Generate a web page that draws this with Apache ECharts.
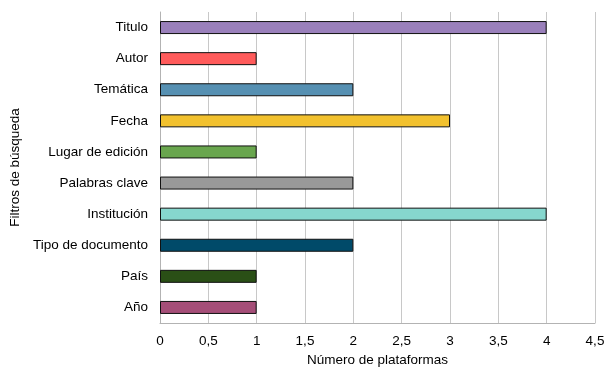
<!DOCTYPE html>
<html><head><meta charset="utf-8">
<script src="https://cdn.jsdelivr.net/npm/echarts@6/dist/echarts.min.js"></script>
<style>html,body{margin:0;padding:0;background:#fff}#c{width:605px;height:367px}</style>
</head><body><div id="c"></div>
<script>
const categories = ["Titulo","Autor","Temática","Fecha","Lugar de edición","Palabras clave","Institución","Tipo de documento","País","Año"];
const values = [4,1,2,3,1,2,4,2,1,1];
const colors = ["#9a80bb","#ff5b5b","#5690b2","#f2c12e","#69a64e","#999999","#86d7ce","#004a69","#2a4f16","#a54e78"];
const xTicks = ["0","0,5","1","1,5","2","2,5","3","3,5","4","4,5"];

const chart = echarts.init(document.getElementById('c'), null, {renderer:'canvas'});
const font = "'Liberation Sans', Arial, sans-serif";
const fs = 13.5;
chart.setOption({
  animation:false,
  grid:{left:160,right:10,top:12,bottom:44,containLabel:false,outerBoundsMode:'none'},
  xAxis:{
    type:'value',min:0,max:4.5,interval:0.5,
    name:'Número de plataformas',nameLocation:'middle',nameGap:27,
    nameTextStyle:{fontFamily:font,fontSize:fs,color:'#000'},
    axisLine:{show:true,lineStyle:{color:'#b3b3b3'}},
    axisTick:{show:false},
    axisLabel:{fontFamily:font,fontSize:fs,color:'#000',margin:11,
      formatter:v=>xTicks[Math.round(v*2)]},
    splitLine:{show:true,lineStyle:{color:'#c8c8c8',width:1}}
  },
  yAxis:{
    type:'category',data:categories,inverse:true,
    name:'Filtros de búsqueda',nameLocation:'middle',nameGap:132,nameRotate:90,
    nameTextStyle:{fontFamily:font,fontSize:fs,color:'#000'},
    axisLine:{show:true,lineStyle:{color:'#b3b3b3'}},
    axisTick:{show:false},
    axisLabel:{fontFamily:font,fontSize:fs,color:'#000',margin:12},
    splitLine:{show:false}
  },
  series:[{
    type:'bar',barWidth:13,
    data:values.map((v,i)=>({value:v,itemStyle:{color:colors[i]}})),
    itemStyle:{borderColor:'#111',borderWidth:1}
  }]
});
</script></body></html>
